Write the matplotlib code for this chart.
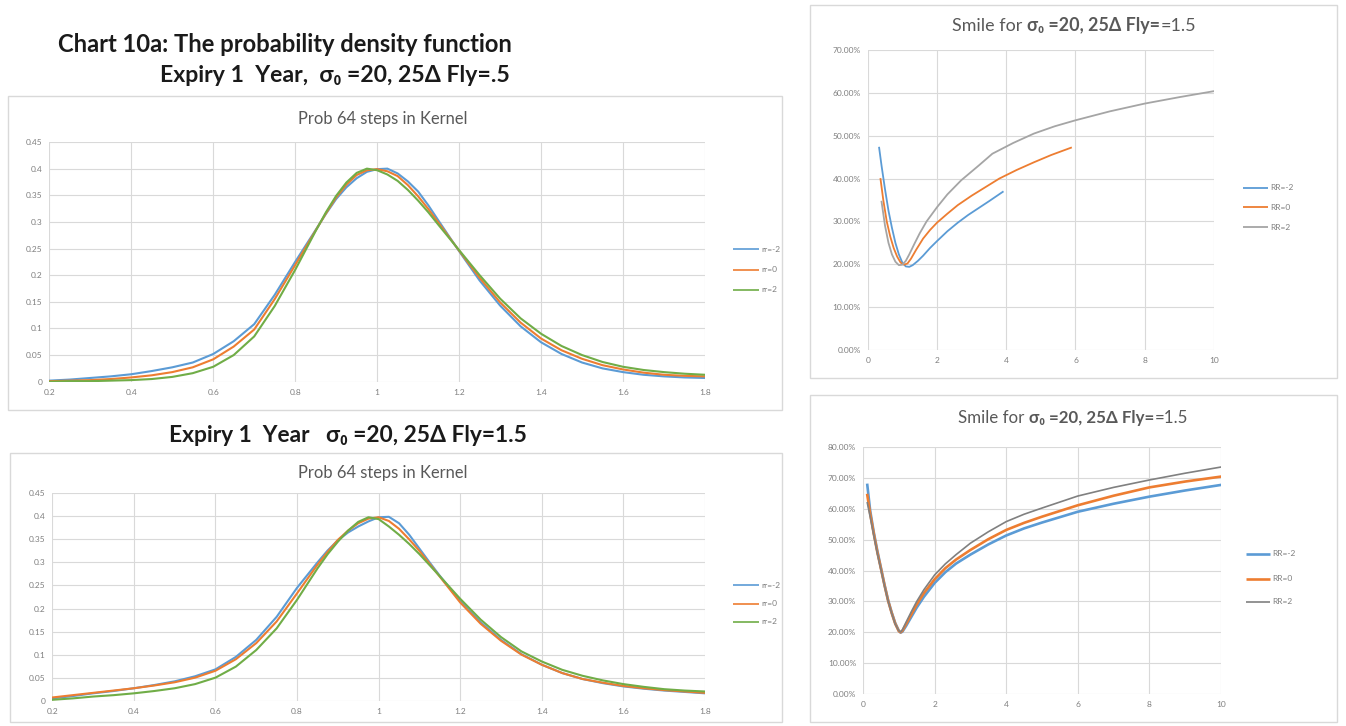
import matplotlib
matplotlib.use("Agg")
import matplotlib.pyplot as plt
from matplotlib.patches import Rectangle
from matplotlib.lines import Line2D
from matplotlib.ticker import FuncFormatter, MultipleLocator

# ---------------- data ----------------
pdf_x = [0.2, 0.25, 0.3, 0.35, 0.4, 0.45, 0.5, 0.55, 0.6, 0.65, 0.7, 0.75, 0.8,
         0.85, 0.875, 0.9, 0.925, 0.95, 0.975, 1.0, 1.025, 1.05, 1.075, 1.1, 1.125, 1.15,
         1.2, 1.25, 1.3, 1.35, 1.4, 1.45, 1.5, 1.55, 1.6, 1.65, 1.7, 1.75, 1.8]

# density, 25d fly = .5
fly05_rr_m2 = [0.002, 0.004, 0.007, 0.010, 0.014, 0.020, 0.027, 0.036, 0.052, 0.076, 0.108,
               0.163, 0.225,
               0.285, 0.315, 0.343, 0.365, 0.382, 0.394, 0.399, 0.400, 0.391, 0.376, 0.357, 0.331, 0.302,
               0.245, 0.190, 0.143, 0.104, 0.074, 0.052, 0.036, 0.025, 0.018, 0.013, 0.010, 0.008, 0.007]
fly05_rr_0 = [0.001, 0.002, 0.003, 0.005, 0.008, 0.012, 0.018, 0.027, 0.042, 0.066, 0.098,
              0.155, 0.219,
              0.284, 0.316, 0.346, 0.370, 0.388, 0.397, 0.399, 0.395, 0.386, 0.369, 0.348, 0.324, 0.298,
              0.246, 0.195, 0.149, 0.111, 0.081, 0.059, 0.043, 0.031, 0.023, 0.017, 0.013, 0.011, 0.010]
fly05_rr_2 = [0.000, 0.001, 0.001, 0.002, 0.003, 0.005, 0.009, 0.016, 0.028, 0.050, 0.085,
              0.142, 0.210,
              0.283, 0.318, 0.349, 0.374, 0.392, 0.400, 0.397, 0.389, 0.377, 0.360, 0.340, 0.318, 0.294,
              0.247, 0.200, 0.156, 0.119, 0.090, 0.067, 0.050, 0.037, 0.028, 0.022, 0.018, 0.015, 0.013]

# density, 25d fly = 1.5
fly15_rr_m2 = [0.005, 0.010, 0.016, 0.021, 0.027, 0.034, 0.042, 0.053, 0.068, 0.095, 0.132,
               0.182, 0.245,
               0.300, 0.326, 0.348, 0.365, 0.378, 0.389, 0.398, 0.399, 0.385, 0.360, 0.330, 0.300, 0.271,
               0.216, 0.170, 0.132, 0.101, 0.078, 0.060, 0.047, 0.038, 0.031, 0.026, 0.022, 0.019, 0.016]
fly15_rr_0 = [0.007, 0.012, 0.017, 0.022, 0.027, 0.033, 0.040, 0.050, 0.065, 0.090, 0.125,
              0.172, 0.233,
              0.295, 0.323, 0.349, 0.369, 0.385, 0.395, 0.398, 0.390, 0.373, 0.350, 0.325, 0.297, 0.269,
              0.213, 0.167, 0.130, 0.100, 0.078, 0.060, 0.047, 0.039, 0.032, 0.027, 0.023, 0.020, 0.017]
fly15_rr_2 = [0.002, 0.005, 0.009, 0.012, 0.016, 0.021, 0.027, 0.036, 0.050, 0.074, 0.110,
              0.157, 0.219,
              0.287, 0.318, 0.345, 0.369, 0.388, 0.398, 0.394, 0.378, 0.360, 0.340, 0.318, 0.294, 0.270,
              0.221, 0.176, 0.138, 0.107, 0.085, 0.067, 0.054, 0.044, 0.036, 0.030, 0.025, 0.022, 0.020]

pdf_labels = ["rr=-2", "rr=0", "rr=2"]
smile_labels = ["RR=-2", "RR=0", "RR=2"]

# smile (vol in %), upper panel
smileA_x_m2 = [0.33, 0.4, 0.5, 0.6, 0.7, 0.8, 0.9, 1.0, 1.1, 1.2, 1.3, 1.45, 1.6, 1.8, 2.0,
               2.3, 2.6, 2.9, 3.2, 3.5, 3.9]
smileA_y_m2 = [47.2, 43.0, 37.5, 32.5, 28.5, 25.0, 22.3, 20.4, 19.5, 19.4, 19.8, 20.8, 22.0,
               23.8, 25.4, 27.7, 29.7, 31.5, 33.1, 34.7, 36.9]
smileA_x_0 = [0.37, 0.45, 0.55, 0.65, 0.75, 0.85, 0.95, 1.05, 1.15, 1.25, 1.4, 1.6, 1.8, 2.0,
              2.3, 2.6, 3.0, 3.4, 3.8, 4.3, 4.8, 5.3, 5.87]
smileA_y_0 = [39.9, 35.0, 30.0, 26.5, 23.8, 21.8, 20.4, 19.9, 20.2, 21.3, 23.4, 26.0, 28.0,
              29.7, 31.8, 33.8, 36.0, 38.0, 40.0, 42.0, 43.8, 45.5, 47.2]
smileA_x_2 = [0.4, 0.5, 0.6, 0.7, 0.8, 0.9, 1.0, 1.1, 1.2, 1.35, 1.5, 1.7, 2.0, 2.3, 2.7, 3.2,
              3.6, 4.2, 4.8, 5.4, 6.0, 7.0, 8.0, 9.0, 10.0]
smileA_y_2 = [34.6, 29.0, 25.0, 22.3, 20.6, 19.8, 19.9, 20.8, 22.3, 24.8, 27.2, 30.0, 33.3,
              36.3, 39.6, 43.0, 45.8, 48.3, 50.5, 52.2, 53.6, 55.7, 57.5, 59.0, 60.4]

# smile (vol in %), lower panel
smileB_x = [0.12, 0.2, 0.3, 0.4, 0.5, 0.6, 0.7, 0.8, 0.9, 1.0, 1.05, 1.1, 1.2, 1.35, 1.5, 1.7,
            2.0, 2.3, 2.6, 3.0, 3.5, 4.0, 4.5, 5.0, 6.0, 7.0, 8.0, 9.0, 10.0]
smileB_y_m2 = [67.8, 59.5, 52.5, 46.5, 41.0, 35.5, 30.5, 26.5, 23.0, 20.5, 19.9, 20.2, 22.0,
               25.0, 28.0, 31.5, 36.0, 39.5, 42.3, 45.2, 48.5, 51.4, 53.7, 55.6, 59.1, 61.7,
               64.0, 66.0, 67.8]
smileB_y_0 = [64.5, 58.5, 52.0, 46.0, 40.7, 35.3, 30.3, 26.3, 22.8, 20.4, 20.0, 20.5, 22.6,
              25.8, 29.0, 32.7, 37.2, 40.8, 43.6, 46.7, 50.2, 53.2, 55.5, 57.5, 61.2, 64.3,
              67.0, 68.9, 70.5]
smileB_y_2 = [62.0, 57.5, 51.5, 45.6, 40.4, 35.1, 30.2, 26.2, 22.7, 20.5, 20.1, 20.8, 23.2,
              26.7, 30.0, 33.8, 38.6, 42.2, 45.2, 48.9, 52.6, 55.9, 58.3, 60.3, 64.2, 67.0,
              69.4, 71.6, 73.6]

# ---------------- styling ----------------
FONT = ["Lato", "DejaVu Sans"]
plt.rcParams["font.family"] = FONT
BLUE, ORANGE, GREEN, GREY = "#5B9BD5", "#ED7D31", "#70AD47", "#A5A5A5"
DARK_GREY = "#808080"
GRID = "#D9D9D9"
TICK = "#7F7F7F"
TITLE_GREY = "#595959"

W, H = 1346, 726
fig = plt.figure(figsize=(W / 100, H / 100), dpi=100)
fig.patch.set_facecolor("white")
renderer = fig.canvas.get_renderer()


def fxy(px, py):
    return px / W, 1 - py / H


def axes_px(x0, y0, x1, y1):
    return fig.add_axes([x0 / W, 1 - y1 / H, (x1 - x0) / W, (y1 - y0) / H])


def box_px(x0, y0, x1, y1):
    fig.add_artist(Rectangle(fxy(x0, y1), (x1 - x0) / W, (y1 - y0) / H,
                             transform=fig.transFigure, fill=False,
                             edgecolor=GRID, lw=1.0))


def fit_text(cx, cy, s, target_w, **kw):
    t = fig.text(*fxy(cx, cy), s, ha="center", va="center", fontsize=10, **kw)
    w = t.get_window_extent(renderer).width
    t.set_fontsize(10 * target_w / w)
    return t


def _run_width(parts, size):
    probe = fig.text(0, 0, "x x", fontsize=size)
    w_sp = probe.get_window_extent(renderer).width
    probe.set_text("xx")
    w_sp -= probe.get_window_extent(renderer).width
    probe.remove()
    runs = []
    for s, wgt in parts:
        t = fig.text(0, 0, s.strip(), fontsize=size, fontweight=wgt)
        w = t.get_window_extent(renderer).width
        t.remove()
        runs.append((w_sp if s.startswith(" ") else 0, w, w_sp if s.endswith(" ") else 0))
    return runs


def mixed_title(cx, cy, parts, target_w, color):
    # runs of normal / bold text set side by side, scaled to a given width
    base = 10
    total = sum(a + b + c for a, b, c in _run_width(parts, base))
    size = base * target_w / total
    runs = _run_width(parts, size)
    x = cx - sum(a + b + c for a, b, c in runs) / 2
    for (s, wgt), (lead, w, trail) in zip(parts, runs):
        x += lead
        fig.text(*fxy(x, cy), s.strip(), fontsize=size, fontweight=wgt, color=color,
                 ha="left", va="center")
        x += w + trail


def style_axes(ax, xlim, ylim, xstep, ystep, yfmt):
    ax.set_xlim(*xlim)
    ax.set_ylim(*ylim)
    ax.xaxis.set_major_locator(MultipleLocator(xstep))
    ax.yaxis.set_major_locator(MultipleLocator(ystep))
    ax.yaxis.set_major_formatter(FuncFormatter(yfmt))
    ax.xaxis.set_major_formatter(FuncFormatter(lambda v, p: f"{round(v, 6):g}"))
    for sp in ax.spines.values():
        sp.set_visible(False)
    ax.grid(True, color=GRID, lw=0.8)
    ax.set_axisbelow(True)
    ax.tick_params(length=0, labelsize=6, labelcolor=TICK, pad=5)


def legend_px(x0, x1, ys, colors, labels, lws, fs=6):
    for y, c, lab, lw in zip(ys, colors, labels, lws):
        fig.add_artist(Line2D([x0 / W, x1 / W], [1 - y / H, 1 - y / H],
                              transform=fig.transFigure, color=c, lw=lw,
                              solid_capstyle="butt"))
        fig.text(*fxy(x1 + 2, y), lab, fontsize=fs, color=TICK, ha="left", va="center")


pdf_fmt = lambda v, p: f"{round(v, 6):g}"
pct_fmt = lambda v, p: f"{v:.2f}%"

# ---------------- headings ----------------
fit_text(285, 45, "Chart 10a: The probability density function", 456,
         fontweight="bold", color="#1A1A1A")
fit_text(335, 76, "Expiry 1  Year,  σ\u2080 =20, 25Δ Fly=.5", 350,
         fontweight="bold", color="#1A1A1A")
fit_text(348, 435, "Expiry 1  Year   σ\u2080 =20, 25Δ Fly=1.5", 360,
         fontweight="bold", color="#1A1A1A")

# ---------------- density panels ----------------
pdf_sets = [
    ((8, 96, 782, 410), (49.3, 142, 705, 381.7), 119,
     [fly05_rr_m2, fly05_rr_0, fly05_rr_2], (733, 759, [249, 269.5, 290])),
    ((10, 453, 782, 722), (52.3, 493.3, 705, 700.7), 473,
     [fly15_rr_m2, fly15_rr_0, fly15_rr_2], (733, 759, [585, 603.5, 622])),
]
for box, area, ty, series, leg in pdf_sets:
    box_px(*box)
    ax = axes_px(*area)
    for ys, c in zip(series, [BLUE, ORANGE, GREEN]):
        ax.plot(pdf_x, ys, color=c, lw=1.5, solid_joinstyle="round")
    style_axes(ax, (0.2, 1.8), (0, 0.45), 0.2, 0.05, pdf_fmt)
    fit_text(383, ty, "Prob 64 steps in Kernel", 170, color=TITLE_GREY)
    legend_px(leg[0], leg[1], leg[2], [BLUE, ORANGE, GREEN], pdf_labels, [1.2] * 3)

# ---------------- smile panels ----------------
title_parts = [("Smile for ", "normal"), ("σ\u2080 =20, 25Δ Fly=", "bold"), ("=1.5", "normal")]

box_px(810, 5, 1337, 378)
axA = axes_px(867.7, 50, 1214, 350)
axA.plot(smileA_x_m2, smileA_y_m2, color=BLUE, lw=1.3, solid_joinstyle="round")
axA.plot(smileA_x_0, smileA_y_0, color=ORANGE, lw=1.3, solid_joinstyle="round")
axA.plot(smileA_x_2, smileA_y_2, color=GREY, lw=1.3, solid_joinstyle="round")
style_axes(axA, (0, 10), (0, 70), 2, 10, pct_fmt)
mixed_title(1074, 26, title_parts, 244, TITLE_GREY)
legend_px(1243, 1268, [188, 207, 227], [BLUE, ORANGE, GREY], smile_labels, [1.3] * 3)

box_px(810, 395, 1337, 722)
axB = axes_px(863, 447.3, 1221, 694)
axB.plot(smileB_x, smileB_y_m2, color=BLUE, lw=1.9, solid_joinstyle="round")
axB.plot(smileB_x, smileB_y_0, color=ORANGE, lw=1.9, solid_joinstyle="round")
axB.plot(smileB_x, smileB_y_2, color=DARK_GREY, lw=1.2, solid_joinstyle="round")
style_axes(axB, (0, 10), (0, 80), 2, 10, pct_fmt)
mixed_title(1073, 418, title_parts, 230, TITLE_GREY)
legend_px(1246, 1270, [554, 578.5, 602], [BLUE, ORANGE, DARK_GREY], smile_labels,
          [1.9, 1.9, 1.2])

fig.savefig("out.png", dpi=100, facecolor="white")
